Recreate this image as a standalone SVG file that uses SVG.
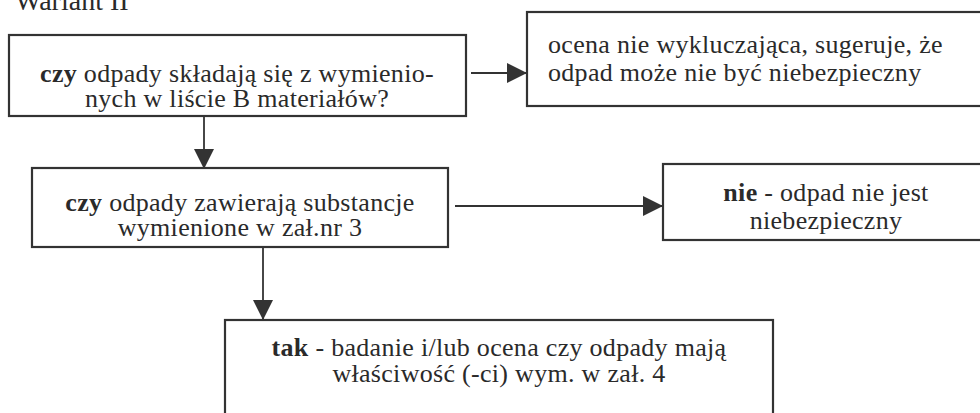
<svg xmlns="http://www.w3.org/2000/svg" width="980" height="413" viewBox="0 0 980 413">
<style>
.box{fill:#fff;stroke:#333;stroke-width:2.2}
.t{font-family:"Liberation Serif","Times New Roman","DejaVu Serif",serif;font-size:26px;letter-spacing:0.3px;fill:#2a2a2a}
.c{text-anchor:middle}
.b{font-weight:bold}
.con{stroke:#333;stroke-width:1.8;fill:none}
</style>
<defs>
<marker id="ah" viewBox="0 0 10 10" refX="10" refY="5" markerWidth="20" markerHeight="20" markerUnits="userSpaceOnUse" orient="auto">
<path d="M0,0 L10,5 L0,10 Z" fill="#333"/>
</marker>
</defs>
<rect width="980" height="413" fill="#fff"/>
<text class="t" x="15" y="10" style="font-size:28px;letter-spacing:0">Wariant II</text>
<g id="connectors">
<line class="con" x1="471" y1="73" x2="527" y2="73" marker-end="url(#ah)"/>
<line class="con" x1="204" y1="116" x2="204" y2="169" marker-end="url(#ah)"/>
<line class="con" x1="455" y1="206" x2="663" y2="206" marker-end="url(#ah)"/>
<line class="con" x1="263" y1="247" x2="263" y2="320" marker-end="url(#ah)"/>
</g>
<g id="n1">
<rect class="box" x="9" y="35" width="457" height="81"/>
<text class="t c" x="237" y="82"><tspan class="b">czy</tspan> odpady składają się z wymienio-</text>
<text class="t c" x="237" y="107">nych  w liście B materiałów?</text>
</g>
<g id="n2">
<rect class="box" x="527" y="12" width="470" height="94"/>
<text class="t" x="548" y="53">ocena nie wykluczająca, sugeruje, że</text>
<text class="t" x="548" y="81">odpad może nie być niebezpieczny</text>
</g>
<g id="n3">
<rect class="box" x="32" y="168" width="416" height="79"/>
<text class="t c" x="240" y="211"><tspan class="b">czy</tspan> odpady zawierają substancje</text>
<text class="t c" x="240" y="236">wymienione w zał.nr 3</text>
</g>
<g id="n4">
<rect class="box" x="663" y="164" width="330" height="76"/>
<text class="t c" x="826" y="201"><tspan class="b">nie</tspan> - odpad nie jest</text>
<text class="t c" x="826" y="229">niebezpieczny</text>
</g>
<g id="n5">
<rect class="box" x="225" y="320" width="548" height="110"/>
<text class="t c" x="499" y="356"><tspan class="b">tak</tspan> - badanie i/lub ocena czy odpady mają</text>
<text class="t c" x="499" y="382">właściwość (-ci) wym. w zał. 4</text>
</g>
</svg>
